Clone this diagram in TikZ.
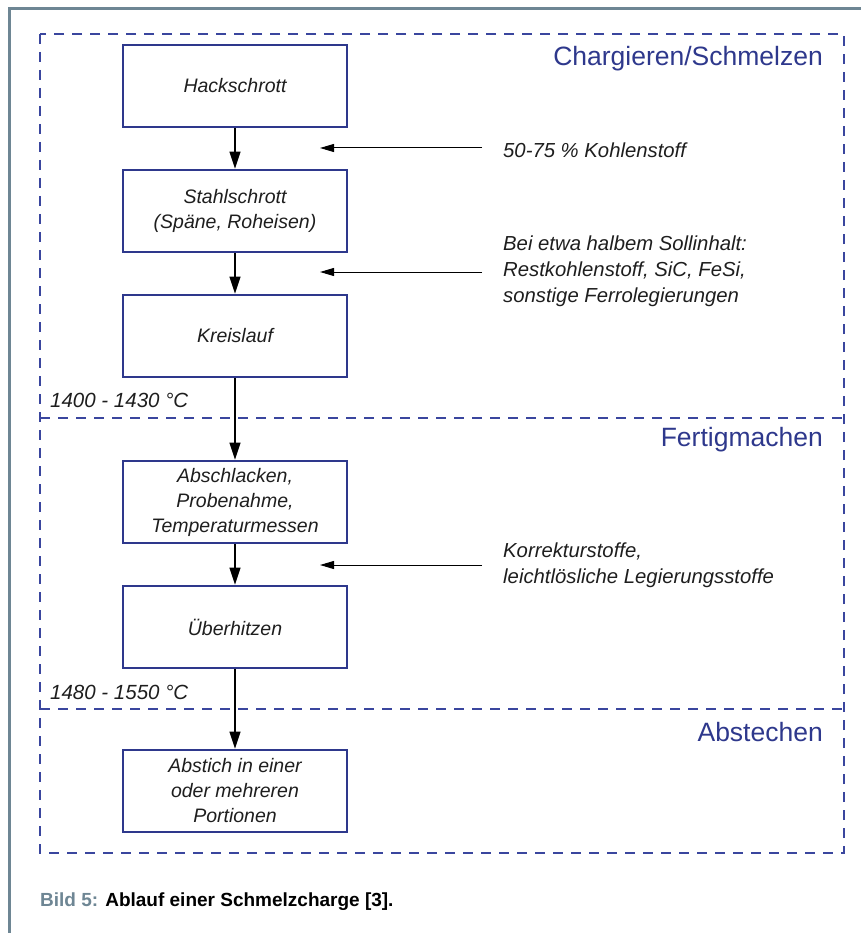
\documentclass[tikz,border=0pt]{standalone}
\usepackage{fontspec}
\setmainfont{Liberation Sans}
\usetikzlibrary{arrows.meta}
\definecolor{boxblue}{RGB}{46,56,140}
\definecolor{dashblue}{RGB}{58,70,158}
\definecolor{framegray}{RGB}{110,134,148}
\definecolor{textdark}{RGB}{30,30,30}
\tikzset{
  procbox/.style={draw=boxblue, line width=2.8pt, minimum width=224pt, minimum height=82pt, align=center, inner sep=0pt,
    text=textdark, font=\fontsize{19.5}{25}\selectfont\itshape},
  note/.style={anchor=west, align=left, inner sep=0pt, text=textdark, font=\fontsize{20.3}{26}\selectfont\itshape},
  section/.style={anchor=east, inner sep=0pt, text=boxblue, font=\fontsize{26.5}{30}\selectfont},
  temp/.style={anchor=west, inner sep=0pt, text=textdark, font=\fontsize{20.5}{24}\selectfont\itshape},
  flow/.style={line width=1.4pt, -{Triangle[length=17pt,width=11pt]}},
  feed/.style={line width=1pt, -{Triangle[length=14pt,width=8pt]}},
  dashframe/.style={draw=dashblue, line width=1.2pt, dash pattern=on 10pt off 8pt}
}
\begin{document}
\begin{tikzpicture}[x=1pt,y=-1pt]
\useasboundingbox (0,0) rectangle (861,933);
% outer frame (top and left)
\draw[framegray, line width=3pt] (9,933) -- (9,9) -- (861,9);
% dashed section frames
\draw[dashframe] (40,34) rectangle (844,853);
\draw[dashframe] (40,418) -- (844,418);
\draw[dashframe] (40,709) -- (844,709);
% section labels
\node[section] (s1) at (823,59) {Chargieren/Schmelzen};
\node[section] (s2) at (823,440) {Fertigmachen};
\node[section] (s3) at (823,732) {Abstechen};
% boxes
\node[procbox] (b1) at (235,86) {Hackschrott};
\node[procbox] (b2) at (235,211) {Stahlschrott\\(Späne, Roheisen)};
\node[procbox] (b3) at (235,336) {Kreislauf};
\node[procbox] (b4) at (235,502) {Abschlacken,\\Probenahme,\\Temperaturmessen};
\node[procbox] (b5) at (235,627) {Überhitzen};
\node[procbox] (b6) at (235,791) {Abstich in einer\\oder mehreren\\Portionen};
% vertical arrows
\draw[flow] (b1) -- (b2);
\draw[flow] (b2) -- (b3);
\draw[flow] (b3) -- (b4);
\draw[flow] (b4) -- (b5);
\draw[flow] (b5) -- (b6);
% temperatures
\node[temp] (t1) at (50,400) {1400 - 1430 °C};
\node[temp] (t2) at (50,692) {1480 - 1550 °C};
% side notes
\node[note] (n1) at (503,150) {50-75 \% Kohlenstoff};
\node[note] (n2) at (503,271) {Bei etwa halbem Sollinhalt:\\Restkohlenstoff, SiC, FeSi,\\sonstige Ferrolegierungen};
\node[note] (n3) at (503,565) {Korrekturstoffe,\\leichtlösliche Legierungsstoffe};
\coordinate (f1s) at (482,148);
\coordinate (f1e) at (320,148);
\coordinate (f2s) at (482,272);
\coordinate (f2e) at (320,272);
\coordinate (f3s) at (482,565);
\coordinate (f3e) at (320,565);
\draw[feed] (f1s) -- (f1e);
\draw[feed] (f2s) -- (f2e);
\draw[feed] (f3s) -- (f3e);
% caption
\node[anchor=west, inner sep=0pt, font=\fontsize{19}{22}\selectfont\bfseries] (cap) at (40,902)
  {\textcolor{framegray}{Bild 5:} Ablauf einer Schmelzcharge [3].};
\end{tikzpicture}
\end{document}
